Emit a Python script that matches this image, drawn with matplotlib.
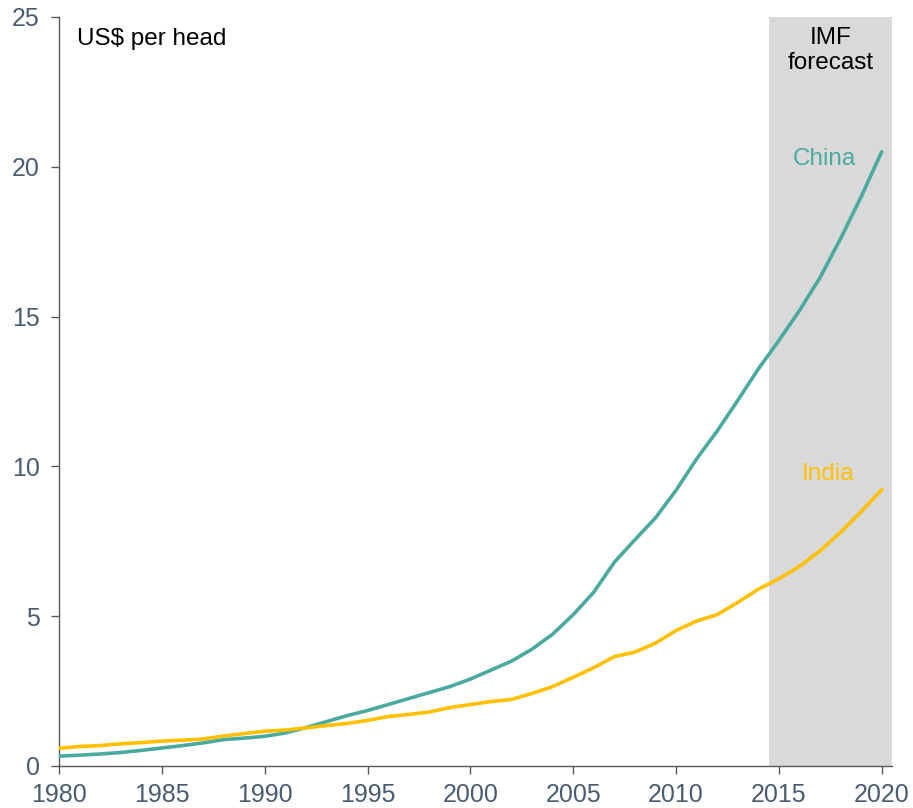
import matplotlib.pyplot as plt

plt.rcParams['font.family'] = ['Liberation Sans', 'DejaVu Sans']

years = list(range(1980, 2021))
china = [0.33, 0.36, 0.40, 0.45, 0.52, 0.60, 0.68, 0.77, 0.88, 0.93,
         0.99, 1.10, 1.28, 1.48, 1.68, 1.85, 2.05, 2.25, 2.45, 2.65,
         2.90, 3.20, 3.50, 3.90, 4.40, 5.05, 5.80, 6.80, 7.55, 8.28,
         9.20, 10.25, 11.18, 12.20, 13.25, 14.20, 15.20, 16.30, 17.60, 19.00,
         20.50]
india = [0.59, 0.65, 0.68, 0.74, 0.78, 0.83, 0.86, 0.90, 1.00, 1.08,
         1.16, 1.20, 1.27, 1.35, 1.42, 1.52, 1.65, 1.72, 1.80, 1.95,
         2.05, 2.15, 2.22, 2.42, 2.65, 2.96, 3.28, 3.65, 3.80, 4.10,
         4.52, 4.84, 5.05, 5.46, 5.90, 6.25, 6.66, 7.18, 7.80, 8.49,
         9.22]
forecast_start, forecast_end = 2014.5, 2020.5

teal = '#4BAAA0'
gold = '#FFC000'
tick_col = '#4A5C70'

fig = plt.figure(figsize=(9.13, 8.08), dpi=100)
ax = fig.add_axes([0.0646, 0.052, 0.9124, 0.927])

ax.axvspan(forecast_start, forecast_end, color='#D9D9D9', lw=0, zorder=0)
ax.plot(years, china, color=teal, lw=2.6, solid_capstyle='round', zorder=3)
ax.plot(years, india, color=gold, lw=2.6, solid_capstyle='round', zorder=3)

ax.set_xlim(1980, 2020.5)
ax.set_ylim(0, 25)
ax.set_xticks(range(1980, 2021, 5))
ax.set_yticks(range(0, 26, 5))

for s in ['top', 'right']:
    ax.spines[s].set_visible(False)
for s in ['left', 'bottom']:
    ax.spines[s].set_color('#595959')
    ax.spines[s].set_linewidth(1.0)
ax.tick_params(axis='both', colors='#595959', labelcolor=tick_col,
               labelsize=18, length=6, width=1.0)
ax.tick_params(axis='x', pad=6)
ax.tick_params(axis='y', pad=8)

ax.text(1980.9, 24.27, 'US$ per head', fontsize=17.5, color='black', va='center', ha='left')
ax.text(2017.5, 24.68, 'IMF\nforecast', fontsize=17.5, color='black',
        ha='center', va='top', linespacing=1.2)
ax.text(2017.2, 20.25, 'China', fontsize=17.5, color=teal, ha='center', va='center')
ax.text(2017.4, 9.75, 'India', fontsize=17.5, color=gold, ha='center', va='center')

fig.savefig('out.png', dpi=100)
